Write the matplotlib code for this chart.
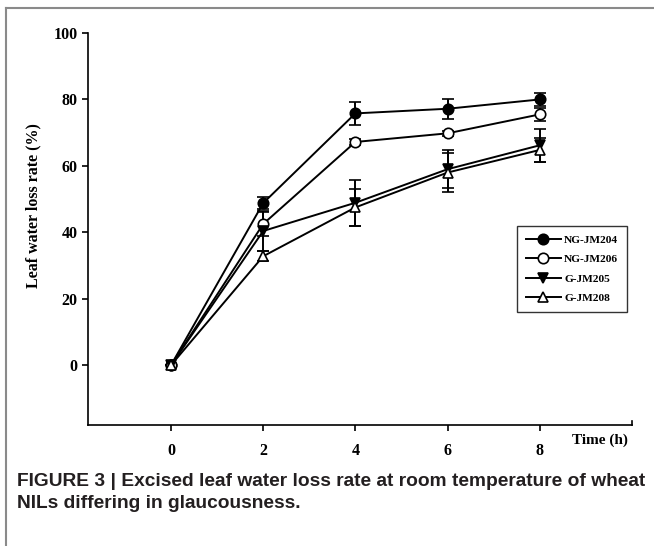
import matplotlib
matplotlib.use('agg')
import matplotlib.pyplot as plt
from matplotlib.lines import Line2D

# time points (h)
hours = [0, 2, 4, 6, 8]

ng204 = [0, 48.8, 75.8, 77.2, 80.0]
ng204_err = [0, 1.7, 3.5, 3.0, 2.0]
ng206 = [0, 42.5, 67.2, 69.8, 75.5]
ng206_err = [0, 3.5, 1.0, 0.8, 2.0]
g205 = [0, 40.4, 48.9, 59.0, 66.2]
g205_err = [0, 6.0, 7.0, 5.8, 5.0]
g208 = [0, 32.8, 47.5, 58.0, 64.8]
g208_err = [0, 1.5, 5.5, 5.8, 3.5]

labels = ['NG-JM204', 'NG-JM206', 'G-JM205', 'G-JM208']
x_ticks = [0, 2, 4, 6, 8]
y_ticks = [0, 20, 40, 60, 80, 100]

serif = ['Liberation Serif', 'DejaVu Serif']
sans = ['Liberation Sans', 'DejaVu Sans']

fig = plt.figure(figsize=(6.54, 5.46), dpi=100)
ax = fig.add_axes([88/654, 121/546, 544/654, 392/546])

series = [
    (ng204, ng204_err, 'o', 'black'),
    (ng206, ng206_err, 'o', 'white'),
    (g205, g205_err, 'v', 'black'),
    (g208, g208_err, '^', 'white'),
]
for (vals, err, m, fc), lab in zip(series, labels):
    ax.errorbar(hours, vals, yerr=err, color='black', lw=1.4, marker=m,
                markersize=7.5, markerfacecolor=fc, markeredgecolor='black',
                markeredgewidth=1.2, capsize=4, capthick=1.4, elinewidth=1.4,
                label=lab)

ax.set_xlim(-1.8, 10)
ax.set_ylim(-18, 100)
ax.set_xticks(x_ticks)
ax.set_yticks(y_ticks)
ax.spines['top'].set_visible(False)
ax.spines['right'].set_visible(False)
for s in ['left', 'bottom']:
    ax.spines[s].set_linewidth(1.2)
ax.tick_params(direction='out', length=4, width=1.2)
ax.tick_params(axis='x', pad=9)
ax.tick_params(axis='y', pad=3.5)
for t in ax.get_xticklabels() + ax.get_yticklabels():
    t.set_fontfamily(serif)
    t.set_fontweight('bold')
    t.set_fontsize(11.5)

# small end tick at the right of the x axis
ax.plot([10, 10], [-18, -16.8], color='black', lw=1.2, clip_on=False)

ax.set_ylabel('Leaf water loss rate (%)', fontfamily=serif,
              fontweight='bold', fontsize=11.5)
ax.yaxis.set_label_coords(-0.085, 0.56)
ax.text(9.3, -20.5, 'Time (h)', fontfamily=serif, fontweight='bold',
        fontsize=11, ha='center', va='top')

handles, labs = ax.get_legend_handles_labels()
handles = [h[0] for h in handles]
leg = ax.legend(handles, labs, loc='upper left',
                bbox_to_anchor=((517-88)/544, (425-226)/392),
                prop={'family': serif, 'weight': 'bold', 'size': 8.2},
                frameon=True, fancybox=False, edgecolor='black',
                handlelength=3.1, handletextpad=0.3, borderpad=0.75,
                borderaxespad=0, labelspacing=0.85)
leg.get_frame().set_linewidth(1.0)

# panel border (top and left)
fig.add_artist(Line2D([6/654, 1], [1-8/546, 1-8/546], color='#8a8a8a', lw=1.5))
fig.add_artist(Line2D([6/654, 6/654], [0, 1-8/546], color='#8a8a8a', lw=1.5))

fig.text(17/654, 1-481/546, 'FIGURE 3 | Excised leaf water loss rate at room temperature of wheat',
         fontfamily=sans, fontweight='bold', fontsize=13.8, va='center',
         color='#231f20')
fig.text(17/654, 1-504/546, 'NILs differing in glaucousness.',
         fontfamily=sans, fontweight='bold', fontsize=13.8, va='center',
         color='#231f20')

fig.savefig('out.png', dpi=100)
